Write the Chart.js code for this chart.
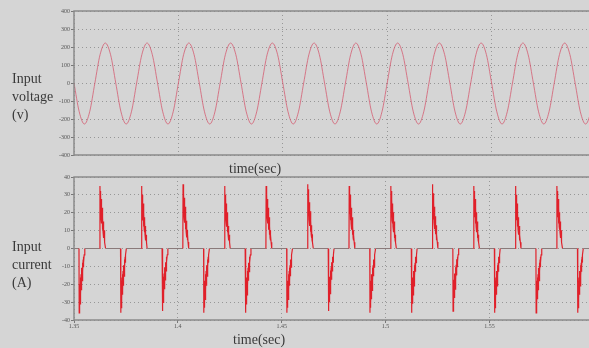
<!DOCTYPE html>
<html>
<head>
<meta charset="utf-8">
<script src="https://cdn.jsdelivr.net/npm/chart.js@4.4.1/dist/chart.umd.min.js"></script>
<style>
body { margin: 0; width: 589px; height: 348px; overflow: hidden; position: relative; background: #d5d5d5; font-family: "Liberation Serif", serif; }
canvas { position: absolute; left: 0; }
#vChart { top: 0; }
#iChart { top: 165px; }
.lbl { position: absolute; color: #3a3a3a; font-size: 14px; line-height: 18px; }
</style>
</head>
<body>
<canvas id="vChart" width="597" height="160"></canvas>
<canvas id="iChart" width="597" height="172"></canvas>
<div class="lbl" style="left:12px;top:70px">Input<br>voltage<br>(v)</div>
<div class="lbl" style="left:12px;top:238px">Input<br>current<br>(A)</div>
<div class="lbl" style="left:229px;top:160px">time(sec)</div>
<div class="lbl" style="left:233px;top:331px">time(sec)</div>
<script>
// input voltage, sampled every 2.5 ms
const voltTime = [
  1.35, 1.3525, 1.355, 1.3575, 1.36, 1.3625, 1.365, 1.3675,
  1.37, 1.3725, 1.375, 1.3775, 1.38, 1.3825, 1.385, 1.3875,
  1.39, 1.3925, 1.395, 1.3975, 1.40, 1.4025, 1.405, 1.4075,
  1.41, 1.4125, 1.415, 1.4175, 1.42, 1.4225, 1.425, 1.4275,
  1.43, 1.4325, 1.435, 1.4375, 1.44, 1.4425, 1.445, 1.4475,
  1.45, 1.4525, 1.455, 1.4575, 1.46, 1.4625, 1.465, 1.4675,
  1.47, 1.4725, 1.475, 1.4775, 1.48, 1.4825, 1.485, 1.4875,
  1.49, 1.4925, 1.495, 1.4975, 1.50, 1.5025, 1.505, 1.5075,
  1.51, 1.5125, 1.515, 1.5175, 1.52, 1.5225, 1.525, 1.5275,
  1.53, 1.5325, 1.535, 1.5375, 1.54, 1.5425, 1.545, 1.5475,
  1.55, 1.5525, 1.555, 1.5575, 1.56, 1.5625, 1.565, 1.5675,
  1.57, 1.5725, 1.575, 1.5775, 1.58, 1.5825, 1.585, 1.5875,
  1.59, 1.5925, 1.595, 1.5975, 1.60
];
const voltValues = [
  0, -160, -228, -160, 0, 158, 222, 158,
  0, -160, -228, -160, 0, 158, 222, 158,
  0, -160, -228, -160, 0, 158, 222, 158,
  0, -160, -228, -160, 0, 158, 222, 158,
  0, -160, -228, -160, 0, 158, 222, 158,
  0, -160, -228, -160, 0, 158, 222, 158,
  0, -160, -228, -160, 0, 158, 222, 158,
  0, -160, -228, -160, 0, 158, 222, 158,
  0, -160, -228, -160, 0, 158, 222, 158,
  0, -160, -228, -160, 0, 158, 222, 158,
  0, -160, -228, -160, 0, 158, 222, 158,
  0, -160, -228, -160, 0, 158, 222, 158,
  0, -160, -228, -160, 0
];

// input current: one spike per half cycle, zero in between
const spikeStarts = [
  1.3524, 1.3624, 1.3724, 1.3824, 1.3924, 1.4024, 1.4124, 1.4224, 1.4324,
  1.4424, 1.4524, 1.4624, 1.4724, 1.4824, 1.4924, 1.5024, 1.5124, 1.5224,
  1.5324, 1.5424, 1.5524, 1.5624, 1.5724, 1.5824, 1.5924
];
const spikePeaks = [
  -36, 35, -36, 35, -35, 36, -36, 35, -36,
  35, -36, 36, -35, 35, -36, 35, -36, 36,
  -35, 35, -36, 35, -36, 35, -36
];
// shape of one spike: time after start (s), share of the peak (heavy ringing while it decays)
const spikeOffsets = [0, 0.0001, 0.0002, 0.0003, 0.0004, 0.0005, 0.0006, 0.0007,
  0.0008, 0.0009, 0.001, 0.0011, 0.0012, 0.0013, 0.0014, 0.0015, 0.0016,
  0.0017, 0.0018, 0.0019, 0.002, 0.0021, 0.0022, 0.0023, 0.0025, 0.0028];
const spikeShape = [0, 1.0, 0.6, 0.92, 0.55, 0.86, 0.5, 0.79,
  0.45, 0.72, 0.4, 0.65, 0.35, 0.58, 0.3, 0.5, 0.26,
  0.43, 0.22, 0.36, 0.17, 0.29, 0.13, 0.22, 0.1, 0];

const xTicks = [1.35, 1.4, 1.45, 1.5, 1.55, 1.6];

const voltPoints = voltTime.map((t, i) => ({ x: t, y: voltValues[i] }));

const curPoints = [{ x: 1.35, y: 0 }];
spikeStarts.forEach((t0, k) => {
  spikeOffsets.forEach((dt, j) => {
    curPoints.push({ x: t0 + dt, y: spikePeaks[k] * spikeShape[j] });
  });
});
curPoints.push({ x: 1.6, y: 0 });

const framePlugin = {
  id: 'frame',
  afterDatasetsDraw(chart) {
    const { ctx, chartArea: a } = chart;
    ctx.save();
    ctx.strokeStyle = '#8a8a8a';
    ctx.lineWidth = 1.5;
    ctx.strokeRect(a.left, a.top, a.right - a.left, a.bottom - a.top);
    ctx.restore();
  }
};

const gridOpts = {
  color: 'rgba(130,130,130,0.75)',
  lineWidth: 1,
  tickLength: 3,
  tickColor: '#777'
};
const tickFont = { family: 'Liberation Serif', size: 6 };

function makeOptions(yMin, yMax, yStep, showX, xHeight, topPad) {
  return {
    responsive: false,
    animation: false,
    layout: { padding: { top: topPad, right: 1, left: 0, bottom: 0 } },
    plugins: { legend: { display: false }, tooltip: { enabled: false } },
    scales: {
      x: {
        type: 'linear',
        min: 1.35,
        max: 1.6,
        afterBuildTicks: s => { s.ticks = xTicks.map(v => ({ value: v })); },
        afterFit: s => { s.height = xHeight; },
        grid: Object.assign({}, gridOpts, { drawTicks: showX }),
        border: { display: false, dash: [1, 3] },
        ticks: {
          display: showX,
          padding: 0,
          color: '#555',
          font: tickFont,
          maxRotation: 0,
          callback: v => String(+v.toFixed(2))
        }
      },
      y: {
        min: yMin,
        max: yMax,
        afterFit: s => { s.width = 74; },
        grid: gridOpts,
        border: { display: false, dash: [1, 3] },
        ticks: { stepSize: yStep, padding: 1, color: '#555', font: tickFont }
      }
    }
  };
}

new Chart(document.getElementById('vChart'), {
  type: 'line',
  data: {
    datasets: [{
      data: voltPoints,
      borderColor: 'rgba(212,85,108,0.75)',
      borderWidth: 1,
      pointRadius: 0,
      cubicInterpolationMode: 'monotone'
    }]
  },
  options: makeOptions(-400, 400, 100, false, 5, 11),
  plugins: [framePlugin]
});

new Chart(document.getElementById('iChart'), {
  type: 'line',
  data: {
    datasets: [{
      data: curPoints,
      borderColor: '#e0202a',
      borderWidth: 1.2,
      pointRadius: 0,
      tension: 0,
      segment: {
        borderColor: c => (c.p0.parsed.y === 0 && c.p1.parsed.y === 0) ? '#8a7a7a' : '#e0202a'
      }
    }]
  },
  options: makeOptions(-40, 40, 10, true, 17, 12),
  plugins: [framePlugin]
});
</script>
</body>
</html>
